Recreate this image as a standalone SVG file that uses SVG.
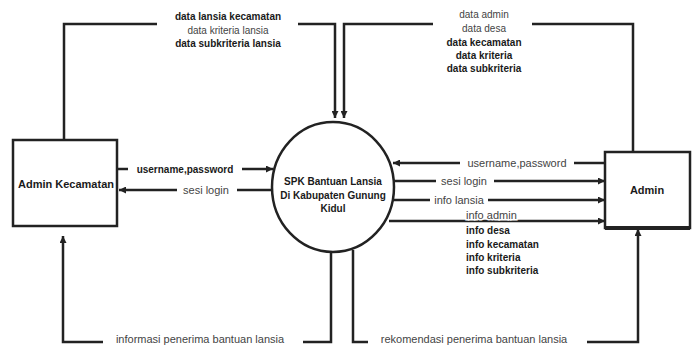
<svg xmlns="http://www.w3.org/2000/svg" width="693" height="347" viewBox="0 0 693 347">
<style>
.ln{fill:none;stroke:#222;stroke-width:2.5}
.box{fill:#fff;stroke:#222;stroke-width:2.5}
.b{font-family:"Liberation Sans",Arial,sans-serif;font-size:10px;font-weight:bold;fill:#1a1a1a}
.r{font-family:"Liberation Sans",Arial,sans-serif;font-size:11px;fill:#444}
.c{text-anchor:middle}
</style>
<defs>
<marker id="ah" viewBox="0 0 10 10" refX="10" refY="5" markerWidth="9" markerHeight="7" markerUnits="userSpaceOnUse" orient="auto">
<path d="M0,0 L10,5 L0,10 Z" fill="#222"/>
</marker>
</defs>
<g id="node-admin-kecamatan">
<rect class="box" x="13" y="140" width="104" height="86"/>
<text class="b c" x="66" y="188" style="font-size:11px">Admin Kecamatan</text>
</g>
<g id="node-spk">
<ellipse class="box" cx="333" cy="187" rx="61" ry="65"/>
<text class="b c" x="333" y="185">SPK Bantuan Lansia</text>
<text class="b c" x="333" y="199">Di Kabupaten Gunung</text>
<text class="b c" x="333" y="212">Kidul</text>
</g>
<g id="node-admin">
<rect class="box" x="605" y="152" width="85" height="76"/>
<line x1="605" y1="228" x2="690" y2="228" stroke="#222" stroke-width="4"/>
<text class="b c" x="647" y="194" style="font-size:11px">Admin</text>
</g>
<g id="connectors">
<polyline class="ln" points="64,140 64,24 157,24"/>
<polyline class="ln" points="298,24 335,24 335,118" marker-end="url(#ah)"/>
<text class="b c" x="228" y="20">data lansia kecamatan</text>
<text class="r c" x="228" y="34" style="font-size:10px">data kriteria lansia</text>
<text class="b c" x="228" y="47">data subkriteria lansia</text>
<polyline class="ln" points="633,152 633,24 532,24"/>
<polyline class="ln" points="433,24 344,24 344,118" marker-end="url(#ah)"/>
<text class="r c" x="484" y="18" style="font-size:10px">data  admin</text>
<text class="r c" x="484" y="32" style="font-size:10px">data desa</text>
<text class="b c" x="484" y="46">data kecamatan</text>
<text class="b c" x="484" y="59">data kriteria</text>
<text class="b c" x="484" y="72">data subkriteria</text>
<line class="ln" x1="117" y1="169" x2="128" y2="169"/>
<line class="ln" x1="242" y1="169" x2="273" y2="169" marker-end="url(#ah)"/>
<text class="b c" x="185" y="173">username,password</text>
<line class="ln" x1="272" y1="190" x2="237" y2="190"/>
<line class="ln" x1="177" y1="190" x2="119" y2="190" marker-end="url(#ah)"/>
<text class="r c" x="206" y="194">sesi login</text>
<line class="ln" x1="605" y1="163" x2="574" y2="163"/>
<line class="ln" x1="460" y1="163" x2="393" y2="163" marker-end="url(#ah)"/>
<text class="r c" x="517" y="167">username,password</text>
<line class="ln" x1="393" y1="181" x2="436" y2="181"/>
<line class="ln" x1="494" y1="181" x2="605" y2="181" marker-end="url(#ah)"/>
<text class="r c" x="464" y="185">sesi login</text>
<line class="ln" x1="392" y1="200" x2="430" y2="200"/>
<line class="ln" x1="488" y1="200" x2="605" y2="200" marker-end="url(#ah)"/>
<text class="r c" x="459" y="204">info lansia</text>
<line class="ln" x1="389" y1="221" x2="605" y2="221" marker-end="url(#ah)"/>
<text class="r" x="466" y="219" stroke="#fff" stroke-width="3" paint-order="stroke">info admin</text>
<text class="b" x="466" y="234">info desa</text>
<text class="b" x="466" y="248">info kecamatan</text>
<text class="b" x="466" y="261">info kriteria</text>
<text class="b" x="466" y="274">info subkriteria</text>
<polyline class="ln" points="331,252 331,342 303,342"/>
<polyline class="ln" points="103,342 63,342 63,236" marker-end="url(#ah)"/>
<text class="r c" x="200" y="343">informasi penerima bantuan lansia</text>
<polyline class="ln" points="353,250 353,342 368,342"/>
<polyline class="ln" points="587,342 638,342 638,229" marker-end="url(#ah)"/>
<text class="r c" x="474" y="343">rekomendasi penerima bantuan lansia</text>
</g>
</svg>
